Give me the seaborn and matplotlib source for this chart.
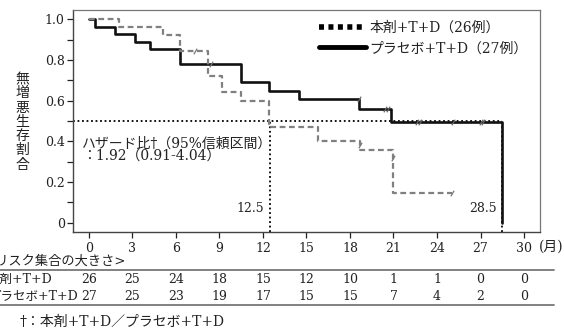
import numpy as np
import pandas as pd
import matplotlib
matplotlib.use("Agg")
import matplotlib.pyplot as plt
import matplotlib.transforms as mtransforms
from matplotlib.markers import MarkerStyle
from matplotlib.lines import Line2D
import seaborn as sns

# Kaplan-Meier steps
drug_t = [0, 2.1, 5.1, 6.25, 8.2, 9.2, 10.5, 12.4, 15.8, 18.7, 21.0, 25.0]
drug_s = [1.0, 0.962, 0.923, 0.846, 0.72, 0.644, 0.6, 0.472, 0.4, 0.358, 0.146, 0.146]
plac_t = [0, 0.4, 1.8, 3.2, 4.2, 6.3, 10.5, 12.4, 14.5, 18.6, 20.8, 28.5]
plac_s = [1.0, 0.963, 0.926, 0.889, 0.852, 0.778, 0.69, 0.647, 0.606, 0.557, 0.495, 0.0]

# censored observations
drug_cens_t = [7.3, 8.4, 18.7, 21.0, 25.0]
drug_cens_s = [0.846, 0.78, 0.38, 0.32, 0.146]
plac_cens_t = [18.6, 20.4, 20.6, 22.6, 22.8, 25.1, 27.0, 27.2]
plac_cens_s = [0.606, 0.557, 0.557, 0.495, 0.495, 0.495, 0.495, 0.495]

medians = [12.5, 28.5]
median_labels = ["12.5", "28.5"]

xticks = [0, 3, 6, 9, 12, 15, 18, 21, 24, 27, 30]
yticks = [0, 0.2, 0.4, 0.6, 0.8, 1.0]
ytick_labels = ["0", "0.2", "0.4", "0.6", "0.8", "1.0"]

drug_label = "本剤+T+D（26例）"
plac_label = "プラセボ+T+D（27例）"
risk_drug = [26, 25, 24, 18, 15, 12, 10, 1, 1, 0, 0]
risk_plac = [27, 25, 23, 19, 17, 15, 15, 7, 4, 2, 0]

sns.set_style("ticks")
plt.rcParams["font.family"] = ["DejaVu Serif", "Noto Sans CJK JP"]
plt.rcParams["text.color"] = "#222222"
plt.rcParams["xtick.color"] = "#222222"
plt.rcParams["ytick.color"] = "#222222"

fig = plt.figure(figsize=(5.64, 3.29), dpi=100)
ax = fig.add_axes([0.1294, 0.2948, 0.828, 0.6748])

YMIN, YMAX = -0.045, 1.045
ax.set_xlim(-1.1, 31.1)
ax.set_ylim(YMIN, YMAX)

# reference lines at median
ax.hlines(0.5, -1.1, medians[1], colors="black", linestyles=(0, (1, 1.5)), lw=1.3, zorder=1)
ax.vlines(medians, YMIN, 0.5, colors="black", linestyles=(0, (1, 1.5)), lw=1.3, zorder=1)

df_d = pd.DataFrame({"t": drug_t, "s": drug_s})
df_p = pd.DataFrame({"t": plac_t, "s": plac_s})
sns.lineplot(data=df_p, x="t", y="s", ax=ax, estimator=None, sort=False,
             drawstyle="steps-post", color="#111111", lw=1.9, zorder=3)
sns.lineplot(data=df_d, x="t", y="s", ax=ax, estimator=None, sort=False,
             drawstyle="steps-post", color="#808080", lw=1.6,
             linestyle=(0, (2.6, 1.6)), zorder=4)

slash = MarkerStyle("|", transform=mtransforms.Affine2D().rotate_deg(-30))
sns.scatterplot(x=drug_cens_t, y=drug_cens_s, ax=ax, marker=slash, color="#777777",
                s=22, linewidth=0.9, zorder=5)
sns.scatterplot(x=plac_cens_t, y=plac_cens_s, ax=ax, marker=slash, color="#666666",
                s=22, linewidth=0.9, zorder=5)

for m, lab in zip(medians, median_labels):
    ax.text(m - 0.4, 0.069, lab, ha="right", va="center", fontsize=9)

ax.text(-0.45, 0.39, "ハザード比†（95%信頼区間）", ha="left", va="center", fontsize=10)
ax.text(-0.45, 0.325, "：1.92（0.91-4.04）", ha="left", va="center", fontsize=10)

ax.set_xticks(xticks)
ax.set_yticks(yticks)
ax.set_yticklabels(ytick_labels)
ax.set_yticks(np.arange(0.1, 1.0, 0.2), minor=True)
ax.tick_params(axis="both", which="both", direction="out", length=4, width=0.9,
               labelsize=9, pad=2)
ax.tick_params(axis="x", pad=3)
ax.set_xlabel("")
ax.set_ylabel("")
for side in ["left", "bottom"]:
    ax.spines[side].set_color("#444444")
    ax.spines[side].set_linewidth(1.0)
for side in ["top", "right"]:
    ax.spines[side].set_visible(True)
    ax.spines[side].set_color("#777777")
    ax.spines[side].set_linewidth(0.9)

handles = [
    Line2D([], [], color="black", lw=4, linestyle=(0, (0.9, 0.8))),
    Line2D([], [], color="black", lw=3.5),
]
ax.legend(handles, [drug_label, plac_label], loc="upper right",
          bbox_to_anchor=(0.985, 0.975), frameon=False, fontsize=10,
          handlelength=3.4, handletextpad=0.2, labelspacing=0.45, borderaxespad=0)

# y axis label, vertical stacked characters
ylab = "無増悪生存割合"
for i, ch in enumerate(ylab):
    fig.text(22 / 564, 1 - (79 + 14.3 * i) / 329, ch, ha="center", va="center",
             fontsize=10, family="Noto Sans CJK JP")
fig.text(539 / 564, 1 - 247 / 329, "(月)", ha="left", va="center", fontsize=10)

# number at risk table
tr = mtransforms.blended_transform_factory(ax.transData, fig.transFigure)
fig.text(126 / 564, 1 - 261 / 329, "<リスク集合の大きさ>", ha="right", va="center", fontsize=9.5)
row_y = [1 - 279.5 / 329, 1 - 296 / 329]
fig.text(-12 / 564, row_y[0], "本剤+T+D", ha="left", va="center", fontsize=9)
fig.text(-12 / 564, row_y[1], "プラセボ+T+D", ha="left", va="center", fontsize=9)
for x, a, b in zip(xticks, risk_drug, risk_plac):
    ax.text(x, row_y[0], str(a), transform=tr, ha="center", va="center", fontsize=9)
    ax.text(x, row_y[1], str(b), transform=tr, ha="center", va="center", fontsize=9)
for yy in [1 - 270 / 329, 1 - 304.5 / 329]:
    fig.add_artist(Line2D([0, 554 / 564], [yy, yy], transform=fig.transFigure,
                          color="#777777", lw=1.3))

fig.text(20 / 564, 1 - 322 / 329, "†：本剤+T+D／プラセボ+T+D", ha="left", va="center", fontsize=10)

fig.savefig("out.png", dpi=100)
